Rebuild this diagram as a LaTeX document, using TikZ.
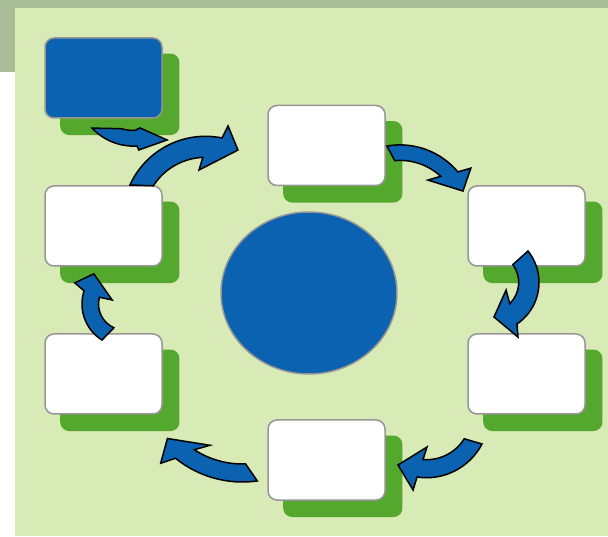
\documentclass[tikz,border=0pt]{standalone}
\usetikzlibrary{shapes.geometric, shadows}
\definecolor{bandgreen}{RGB}{168,188,150}
\definecolor{pagegreen}{RGB}{216,234,181}
\definecolor{leafgreen}{RGB}{84,168,46}
\definecolor{cycleblue}{RGB}{10,98,176}
\definecolor{edgegray}{RGB}{150,150,150}

\tikzset{
  stage/.style={draw=edgegray, line width=1.5pt, fill=white, rounded corners=9pt,
    minimum width=117pt, minimum height=80pt, inner sep=0pt,
    drop shadow={shadow xshift=16pt, shadow yshift=-16pt, shadow scale=1.02, fill=leafgreen, opacity=1}},
  flow/.style={draw=black, line width=1.5pt, fill=cycleblue, line join=miter}
}

\begin{document}
\begin{tikzpicture}[x=1pt,y=1pt]
% Backdrop
\fill[white] (0,0) rectangle (608,536);
\fill[bandgreen] (0,528) rectangle (608,536);
\fill[bandgreen] (0,464) rectangle (15,536);
\fill[pagegreen] (15,0) rectangle (608,528);

% Hub
\node[draw=edgegray, line width=1.5pt, fill=cycleblue, ellipse, minimum width=176pt,
  minimum height=162pt, inner sep=0pt] (hub) at (309,243) {};

% Stages
\node[stage, fill=cycleblue] (start) at (103.5,458) {};
\node[stage] (top) at (326.5,390.5) {};
\node[stage] (rightup) at (526.5,310) {};
\node[stage] (rightdown) at (526.5,162) {};
\node[stage] (bottom) at (326.5,76) {};
\node[stage] (leftdown) at (103.5,162) {};
\node[stage] (leftup) at (103.5,310) {};

% Bent arrows (arc centres)
\coordinate (c1) at (133.5,446.5);
\coordinate (c2) at (205.5,316.7);
\coordinate (c3) at (400,315.6);
\coordinate (c4) at (488.7,253.6);
\coordinate (c5) at (426.5,120.8);
\coordinate (c6) at (242.5,160.5);
\coordinate (c7) at (124.5,232);

% start -> cycle
\begin{scope}[shift={(c1)}]
\draw[flow] (223:56.6) arc[start angle=223, end angle=273.5, radius=56.6] -- (275:60.7)
  -- (303.6:60.6) -- (279.6:39) -- (272:41) arc[start angle=272, end angle=253, radius=41] -- cycle;
\end{scope}
% leftup -> top
\begin{scope}[shift={(c2)}]
\draw[flow] (155.6:83) arc[start angle=155.6, end angle=78.5, radius=83] -- (76.4:96)
  -- (64.9:76.5) -- (97.5:49.7) -- (92.5:62) arc[start angle=92.5, end angle=147.3, radius=62] -- cycle;
\end{scope}
% top -> rightup
\begin{scope}[shift={(c3)}]
\draw[flow] (100:75.5) arc[start angle=100, end angle=40, radius=75.5] -- (36.4:88)
  -- (25:69.5) -- (55.3:49) -- (47.3:60) arc[start angle=47.3, end angle=95, radius=60] -- cycle;
\end{scope}
% rightup -> rightdown
\begin{scope}[shift={(c4)}]
\draw[flow] (38.6:50.3) arc[start angle=38.6, end angle=-55.8, radius=50.3] -- (-61.8:62)
  -- (-81.3:35) -- (-23.7:19) -- (-45.4:30) arc[start angle=-45.4, end angle=36.4, radius=30] -- cycle;
\end{scope}
% rightdown -> bottom
\begin{scope}[shift={(c5)}]
\draw[flow] (-32:44.5) arc[start angle=-32, end angle=-94.5, radius=44.5] -- (-89.1:31.8)
  -- (-119.8:57.4) -- (-100.2:76) -- (-98.7:62.5) arc[start angle=-98.7, end angle=-27.4, radius=62.5] -- cycle;
\end{scope}
% bottom -> leftdown
\begin{scope}[shift={(c6)}]
\draw[flow] (-88:88.5) arc[start angle=-88, end angle=-123, radius=88.5] -- (-115:77)
  -- (-140:98) -- (-133:120) -- (-129:106.5) arc[start angle=-129, end angle=-82, radius=106.5] -- cycle;
\end{scope}
% leftdown -> leftup
\begin{scope}[shift={(c7)}]
\draw[flow] (246:26) arc[start angle=246, end angle=165, radius=26] -- (162:13)
  -- (135.5:43) -- (157:54) -- (162:42.5) arc[start angle=162, end angle=238, radius=42.5] -- cycle;
\end{scope}
\end{tikzpicture}
\end{document}
